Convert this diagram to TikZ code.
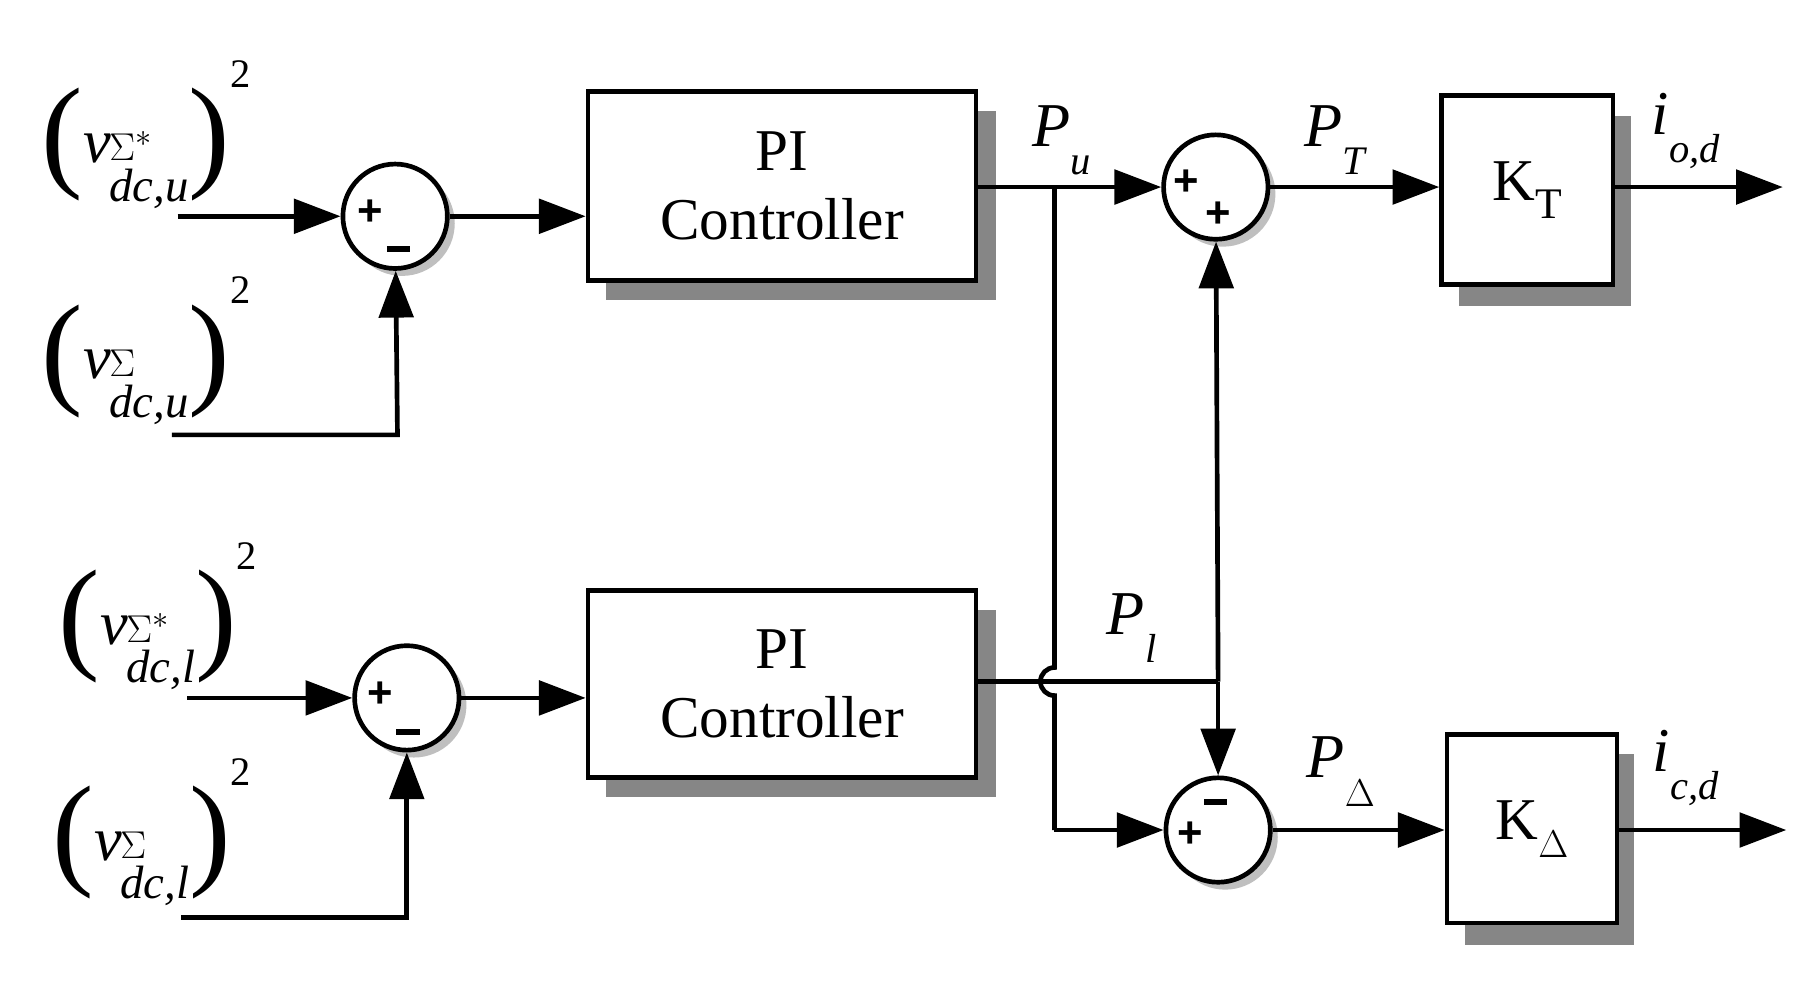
\documentclass[tikz,border=0pt]{standalone}
\usepackage{fontspec}
\setmainfont{Liberation Serif}
\newfontfamily\sgnfont{Liberation Sans}
\usetikzlibrary{arrows.meta}
\newcommand{\vlab}[2]{\raisebox{-0.2em}{\fontsize{80}{80}\selectfont(}\textit{v}\hspace{-1pt}\raisebox{-0.3em}{\fontsize{30}{30}\selectfont\begin{tabular}{@{}l@{}}#1\\[-4pt]\textit{#2}\end{tabular}}\raisebox{-0.2em}{\fontsize{80}{80}\selectfont)}\raisebox{1.2em}{\fontsize{26}{26}\selectfont 2}}
\newcommand{\plab}[2]{\textit{#1}\raisebox{-0.45em}{\fontsize{26}{26}\selectfont #2}}
\begin{document}
\begin{tikzpicture}[x=0.75pt,y=-0.75pt,
  ln/.style={line width=3pt},
  ar/.style={ln,-{Triangle[length=30pt,width=22pt]}},
  sum/.style={circle,draw,line width=3pt,fill=white,minimum size=67pt,inner sep=0pt},
  blk/.style={rectangle,draw,line width=3pt,fill=white,inner sep=0pt,align=center,font=\fontsize{38}{36}\selectfont},
  sg/.style={font=\sgnfont\bfseries\fontsize{28}{28}\selectfont,inner sep=0pt},
  lab/.style={font=\fontsize{40}{44}\selectfont,inner sep=0pt},
  inp/.style={font=\fontsize{40}{44}\selectfont,inner sep=0pt}]
\useasboundingbox (0,0) rectangle (1550,839);
% shadows
\fill[gray!95] (518,95) rectangle (852,257);
\fill[gray!95] (518,522) rectangle (852,682);
\fill[gray!95] (1248,99) rectangle (1395,262);
\fill[gray!95] (1253,645) rectangle (1398,808);
\fill[gray!50] (344,191) circle (45);
\fill[gray!50] (1046,166) circle (45);
\fill[gray!50] (354,603) circle (45);
\fill[gray!50] (1048,716) circle (45);
% blocks
\node[blk,minimum width=249pt,minimum height=121pt] (pi1) at (669,159) {PI\\[8pt]Controller};
\node[blk,minimum width=249pt,minimum height=120pt] (pi2) at (669,585) {PI\\[8pt]Controller};
\node[blk,minimum width=110pt,minimum height=121pt] (kt) at (1306.5,162.5) {K\raisebox{-0.3em}{\fontsize{28}{28}\selectfont T}};
\node[blk,minimum width=109pt,minimum height=121pt] (kd) at (1310.5,709) {K\raisebox{-0.3em}{\fontsize{28}{28}\selectfont $\Delta$}};
% sums
\node[sum] (s1) at (338,185) {};
\node[sum] (s2) at (1040,160) {};
\node[sum] (s3) at (348,597) {};
\node[sum] (s4) at (1042,710) {};
\node[sg] (p1) at (317,182) {+};
\node[sg] (m1) at (341,213) {\rule{15pt}{4pt}};
\node[sg] (p2) at (1015,156) {+};
\node[sg] (p3) at (1042,184) {+};
\node[sg] (p4) at (325,594) {+};
\node[sg] (m4) at (349,626) {\rule{15pt}{4pt}};
\node[sg] (m5) at (1040,686) {\rule{15pt}{4pt}};
\node[sg] (p5) at (1018,714) {+};
% coordinates
\coordinate (a1) at (152,185);
\coordinate (b1) at (147,372);
\coordinate (b1c) at (340,372);
\coordinate (a2) at (160,597);
\coordinate (b2) at (155,785);
\coordinate (b2c) at (348,785);
\coordinate (o1) at (1525,160);
\coordinate (o2) at (1528,710);
\coordinate (j1) at (902,160);
\coordinate (j2) at (902,571);
\coordinate (j4) at (902,710);
\coordinate (pl) at (1042,583);
% connectors
\draw[ar] (a1) -- (s1);
\draw[ar] (b1) -- (b1c) -- (s1);
\draw[ar] (s1) -- (s1 -| pi1.west);
\draw[ar] (a2) -- (s3);
\draw[ar] (b2) -- (b2c) -- (s3);
\draw[ar] (s3) -- (s3 -| pi2.west);
\draw[ar] (pi1.east |- s2) -- (s2);
\draw[ln] (j1) -- (j2) arc[start angle=270,end angle=90,radius=12] -- (j4);
\draw[ar] (j4) -- (s4);
\draw[ln] (pi2.east |- pl) -- (pl);
\draw[ar] (pl) -- (s4);
\draw[ar] (pl) -- (s2);
\draw[ar] (s2) -- (kt.west |- s2);
\draw[ar] (kt.east |- o1) -- (o1);
\draw[ar] (s4) -- (kd.west |- s4);
\draw[ar] (kd.east |- o2) -- (o2);
% labels
\node[lab] (lpu) at (908,120) {\plab{P}{\textit{u}}};
\node[lab] (lpt) at (1143,120) {\plab{P}{\textit{T}}};
\node[lab] (lio) at (1442,112) {\plab{i}{\textit{o,d}}};
\node[lab] (lpl) at (968,537) {\plab{P}{\textit{l}}};
\node[lab] (lpd) at (1147,660) {\plab{P}{$\Delta$}};
\node[lab] (lic) at (1442,657) {\plab{i}{\textit{c,d}}};
\node[inp] (i1) at (125,118) {\vlab{$\Sigma^*$}{dc,u}};
\node[inp] (i2) at (125,303) {\vlab{$\Sigma$}{dc,u}};
\node[inp] (i3) at (135,530) {\vlab{$\Sigma^*$}{dc,l}};
\node[inp] (i4) at (130,715) {\vlab{$\Sigma$}{dc,l}};
\end{tikzpicture}
\end{document}
